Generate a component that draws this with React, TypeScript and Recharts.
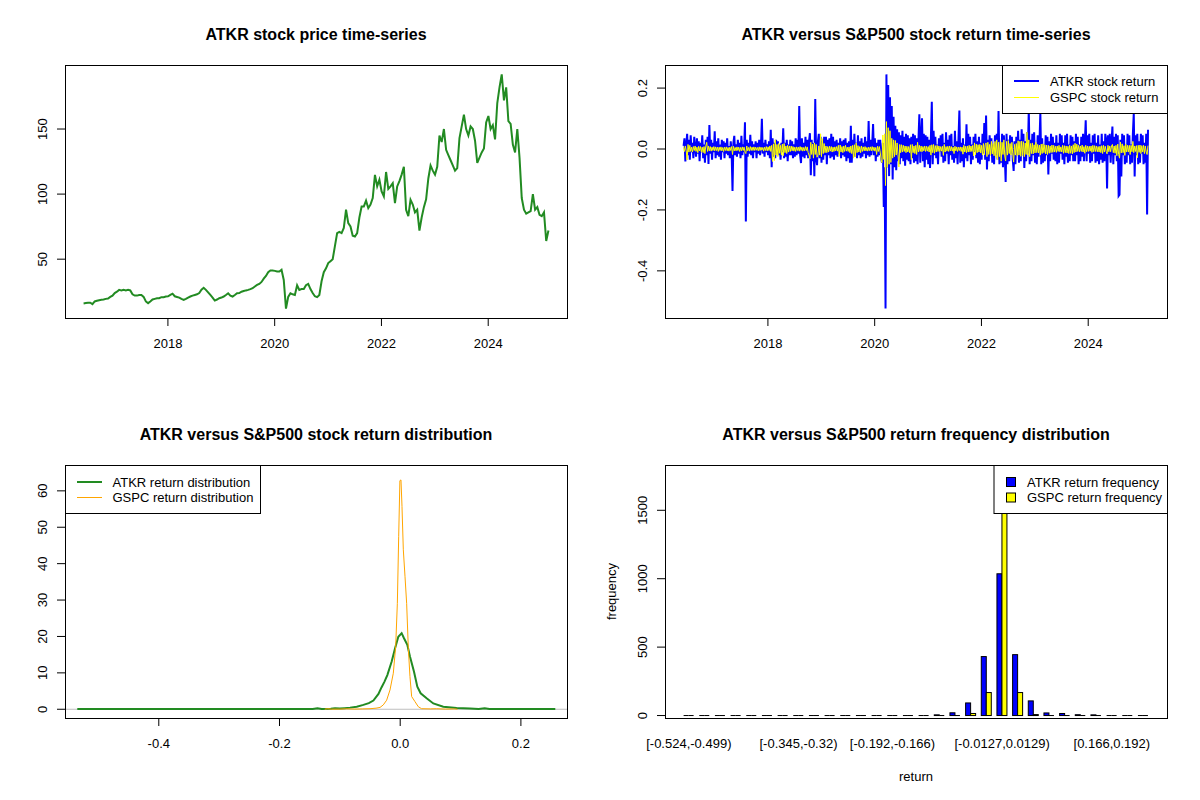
import React from "react";
import { LineChart, Line, XAxis, YAxis, BarChart, Bar, ReferenceLine } from "recharts";

const FONT = '"Liberation Sans", Arial, Helvetica, sans-serif';

// ---------- Panel 1: ATKR price (half-monthly readings) ----------
const PRICE_START = 2016.42;
const PRICE_STEP = 1 / 24;
const atkrPrice = [
  16, 16.3, 16.5, 16.6, 15.5, 17.5, 18, 18.5, 18.8, 19,
  19.5, 19.8, 21, 22, 24, 25, 26.4, 26, 26.4, 26,
  26.4, 26, 23, 22, 22, 22.5, 22.5, 21, 17.5, 16.2,
  17.5, 19, 19.5, 20, 20, 20.8, 20.8, 21.3, 21.5, 22.5,
  23.5, 21.5, 21, 20.5, 19.5, 18.7, 19.5, 20.5, 21.3, 22,
  22.5, 23, 24, 26.5, 28, 26.4, 24.5, 22.5, 20.5, 18.2,
  19, 20, 20.5, 21.3, 22.5, 23.8, 22, 21.3, 22.5, 23.8,
  24, 25, 25.5, 26, 26.4, 27, 27.7, 29, 30.2, 31,
  32.5, 35, 37.1, 40, 41.3, 41.3, 41, 40.5, 40.5, 41.8,
  34, 12, 21, 23.8, 23, 22.5, 30, 26.4, 27, 27,
  30, 31, 27, 24, 21.5, 20.8, 22.5, 33, 40, 43,
  47, 48.5, 50, 60, 70, 71, 70, 74, 88, 77.7,
  75.1, 68, 67.4, 70, 82, 90.5, 90.5, 95, 89.2, 92,
  97, 114.8, 105.9, 111, 102, 98.2, 117, 104, 106, 108.4,
  93, 105.9, 110, 115, 121, 88, 83, 95.6, 92, 86,
  88, 72, 82, 90, 96, 112, 122, 118, 115, 121,
  145, 140, 150, 134, 130, 126, 122, 118, 120, 143,
  152, 161, 150, 145, 152, 150, 141, 124, 128, 132,
  135, 155, 160, 150, 153, 142, 170, 182, 192, 172,
  182, 156, 154, 138, 132, 150, 128, 97, 88, 85,
  86, 87, 100, 88, 90, 84, 83, 86, 64, 72,
];

// ---------- Panel 2: returns (readings every ~1/60 year) ----------
const RET_START = 2016.42;
const RET_STEP = 1 / 60;
const atkrReturn = [
  0.01, 0.035, -0.041, 0.012, 0.05, -0.02, 0.03, -0.035, 0.045, -0.01, 0.02, -0.03, 0.04, 0.005, -0.025, 0.035, -0.015, 0.025, -0.04, 0.02,
  -0.01, 0.045, -0.03, 0.015, -0.045, 0.03, -0.02, 0.04, -0.049, 0.079, -0.015, 0.03, -0.035, 0.02, -0.01, 0.058, -0.03, 0.025, -0.02, 0.035,
  -0.025, 0.015, -0.035, 0.03, -0.01, 0.025, -0.03, 0.02, -0.015, 0.035, -0.02, 0.01, -0.03, 0.025, -0.01, -0.138, 0.02, 0.043, -0.02, 0.015,
  -0.025, 0.03, -0.015, 0.02, -0.03, 0.043, -0.02, 0.015, -0.01, 0.088, -0.238, 0.03, -0.025, 0.02, -0.015, 0.047, -0.02, 0.025, -0.03, 0.015,
  -0.01, 0.025, -0.03, 0.02, -0.015, 0.03, -0.02, 0.01, 0.099, -0.015, 0.02, -0.025, 0.03, -0.01, 0.015, -0.02, 0.025, -0.03, 0.063, -0.06,
  0.035, -0.025, 0.02, -0.03, 0.03, -0.015, 0.025, -0.02, 0.015, -0.035, 0.02, -0.01, 0.068, -0.03, 0.02, -0.025, 0.03, -0.04, 0.015, -0.02,
  0.03, -0.02, 0.025, -0.03, 0.015, -0.025, 0.035, -0.02, 0.03, -0.015, 0.141, -0.02, -0.046, 0.035, -0.025, 0.02, -0.03, 0.04, -0.02, 0.03,
  -0.03, 0.025, 0.052, -0.086, 0.03, -0.04, 0.02, -0.089, 0.164, -0.03, -0.053, 0.025, 0.05, -0.03, 0.04, -0.045, 0.025, -0.035, 0.04, -0.02,
  0.04, -0.05, 0.03, -0.02, 0.035, -0.03, 0.05, -0.025, 0.04, -0.035, 0.025, -0.02, 0.03, -0.025, 0.02, -0.015, 0.035, -0.03, 0.025, -0.02,
  0.03, -0.025, 0.035, -0.04, 0.02, -0.03, 0.025, -0.045, 0.076, -0.045, 0.03, -0.02, 0.05, -0.025, 0.02, -0.03, 0.045, -0.02, 0.025, -0.03,
  0.035, -0.025, 0.02, -0.015, 0.04, -0.03, 0.025, -0.02, 0.092, -0.025, 0.03, -0.02, 0.015, 0.082, -0.02, 0.035, -0.04, 0.02, -0.025, 0.03,
  -0.02, 0.03, -0.03, -0.045, 0.02, -0.19, -0.06, -0.524, 0.245, -0.06, 0.21, -0.089, 0.17, -0.05, 0.141, -0.1, 0.106, -0.06, 0.076, -0.07,
  0.065, -0.04, 0.055, -0.05, 0.045, -0.03, 0.06, -0.04, 0.04, -0.055, 0.05, -0.035, 0.045, -0.04, 0.035, -0.05, 0.04, -0.03, 0.05, -0.045,
  0.045, -0.04, 0.035, -0.05, 0.03, 0.114, -0.045, 0.04, 0.101, -0.04, 0.05, -0.06, 0.045, -0.035, 0.04, -0.05, 0.03, -0.062, 0.04, 0.155,
  -0.05, 0.06, -0.02, 0.04, -0.03, 0.015, -0.05, 0.035, -0.01, 0.045, -0.025, 0.05, -0.045, 0.02, -0.04, 0.055, -0.015, 0.03, -0.05, 0.045,
  -0.02, 0.05, -0.035, 0.01, -0.045, 0.06, -0.03, 0.025, -0.05, 0.035, 0.126, -0.045, 0.02, -0.04, 0.035, -0.06, 0.015, -0.03, 0.081, -0.04,
  0.05, -0.02, 0.04, -0.05, 0.015, -0.035, 0.04, -0.01, 0.05, -0.03, 0.025, -0.045, 0.04, -0.05, 0.02, -0.035, 0.05, -0.015, 0.085, -0.035,
  0.11, -0.067, 0.03, -0.04, 0.045, -0.02, 0.035, -0.045, 0.015, -0.05, 0.045, -0.02, 0.05, -0.035, 0.125, -0.05, 0.02, -0.045, 0.05, -0.06,
  0.045, -0.02, -0.108, 0.05, -0.05, 0.03, -0.04, 0.045, -0.015, 0.04, -0.035, -0.072, 0.025, -0.05, 0.04, -0.02, 0.06, -0.045, 0.03, -0.04,
  0.065, -0.02, 0.05, -0.062, 0.025, -0.04, 0.055, -0.015, 0.13, -0.05, 0.03, -0.04, 0.05, -0.02, 0.055, -0.045, 0.015, -0.05, 0.045, -0.025,
  0.02, 0.12, -0.05, 0.035, -0.045, 0.015, -0.04, 0.045, -0.02, 0.04, -0.084, 0.025, -0.04, 0.05, -0.015, 0.04, -0.035, 0.02, -0.04, 0.045,
  -0.05, 0.02, -0.045, 0.05, -0.015, 0.045, -0.035, 0.02, -0.05, 0.045, -0.025, 0.05, -0.045, 0.015, -0.04, 0.045, -0.02, 0.04, -0.04, 0.025,
  -0.04, 0.05, -0.02, 0.04, -0.05, 0.015, -0.04, 0.04, -0.025, 0.05, -0.04, 0.02, 0.094, -0.04, 0.045, -0.015, 0.05, -0.045, 0.02, -0.04,
  0.045, -0.015, 0.05, -0.045, 0.02, -0.04, 0.045, -0.05, 0.015, -0.035, 0.05, -0.045, 0.025, -0.04, 0.05, 0.03, -0.13, 0.045, -0.02, 0.05,
  -0.045, 0.02, 0.074, -0.05, 0.04, -0.02, 0.05, -0.04, 0.045, -0.154, -0.15, 0.03, -0.09, 0.05, -0.02, 0.045, -0.05, 0.015, -0.045, 0.05,
  -0.02, 0.045, -0.05, 0.015, -0.045, 0.05, 0.117, -0.09, 0.045, -0.02, 0.05, -0.05, 0.025, -0.045, 0.05, -0.015, 0.045, -0.05, 0.02, -0.045,
  0.05, -0.215, 0.063,
];
const gspcReturn = [
  0.005, -0.008, 0.01, -0.006, -0.036, 0.015, -0.01, 0.012, -0.008, 0.006, -0.01, 0.008, -0.005, 0.01, -0.008, 0.006, -0.012, 0.009, -0.006, 0.008,
  -0.01, 0.006, -0.012, 0.008, -0.015, 0.01, 0.022, -0.008, 0.01, -0.006, 0.008, -0.007, 0.006, -0.005, 0.008, -0.006, 0.007, -0.005, 0.006, -0.008,
  0.006, -0.005, 0.007, -0.006, 0.005, -0.008, 0.006, -0.005, 0.007, -0.006, 0.005, -0.007, 0.006, -0.005, 0.008, -0.018, 0.009, -0.006, 0.005, -0.006,
  0.007, -0.005, 0.006, -0.008, 0.005, -0.006, 0.007, -0.005, 0.006, -0.01, -0.015, 0.01, -0.006, 0.005, -0.007, 0.008, -0.005, 0.006, -0.005, 0.007,
  -0.005, 0.006, -0.004, 0.005, -0.006, 0.007, -0.005, 0.006, -0.004, 0.005, -0.007, 0.006, -0.005, 0.008, -0.006, 0.007, -0.005, 0.01, -0.008, 0.012,
  -0.041, 0.017, -0.038, 0.03, -0.02, 0.015, -0.025, 0.018, -0.014, 0.012, -0.02, 0.016, -0.022, 0.018, -0.012, 0.01, -0.015, 0.012, -0.01, 0.01,
  -0.008, 0.01, -0.006, 0.008, -0.007, 0.006, -0.008, 0.007, -0.005, 0.006, -0.007, 0.008, -0.005, 0.006, -0.007, 0.005, -0.006, 0.008, -0.005, 0.007,
  -0.012, -0.02, -0.032, 0.022, -0.018, 0.016, -0.03, 0.02, -0.018, 0.015, -0.027, -0.02, 0.01, -0.02, 0.05, -0.025, 0.034, -0.015, 0.018, -0.012,
  0.01, -0.012, 0.008, -0.01, 0.009, -0.007, 0.008, -0.01, 0.006, -0.008, 0.007, -0.006, 0.008, -0.007, 0.012, -0.024, 0.013, -0.01, 0.008, -0.012,
  0.01, -0.008, 0.012, -0.007, 0.006, -0.008, 0.007, -0.012, 0.01, -0.015, 0.012, -0.03, 0.014, -0.026, 0.02, -0.012, 0.011, -0.01, 0.008, -0.012,
  0.01, -0.008, 0.007, -0.006, 0.008, -0.006, 0.005, -0.007, 0.006, -0.005, 0.007, -0.006, 0.008, -0.005, 0.006, -0.007, 0.005, -0.018, 0.009, -0.008,
  0.008, -0.01, -0.035, -0.045, 0.046, -0.034, 0.05, -0.12, 0.09, -0.06, 0.07, -0.05, 0.06, -0.044, 0.035, -0.03, 0.03, -0.025, 0.028, -0.02,
  0.02, -0.018, -0.059, 0.015, -0.012, 0.014, -0.01, 0.012, -0.008, 0.01, -0.012, 0.009, -0.01, 0.008, -0.012, 0.014, -0.035, 0.015, -0.012, 0.01,
  -0.015, 0.012, -0.018, 0.022, -0.01, 0.012, -0.008, 0.01, -0.009, 0.008, -0.006, 0.01, -0.008, 0.009, -0.007, 0.008, -0.01, 0.012, -0.02, 0.014,
  -0.012, 0.015, -0.014, 0.011, -0.01, 0.012, -0.008, 0.01, -0.009, 0.008, -0.007, 0.009, -0.021, 0.015, -0.01, 0.008, -0.007, 0.009, -0.008, 0.01,
  -0.006, 0.008, -0.007, 0.006, -0.015, 0.009, -0.006, 0.007, -0.008, 0.006, -0.005, 0.007, -0.008, 0.006, -0.017, 0.012, -0.01, 0.009, -0.012, 0.01,
  -0.01, 0.012, -0.009, 0.01, -0.008, 0.012, -0.023, 0.02, -0.019, 0.016, -0.012, 0.014, -0.01, 0.015, -0.013, 0.012, -0.02, 0.018, -0.019, 0.014,
  0.02, -0.025, 0.022, -0.018, 0.015, -0.02, 0.025, -0.016, 0.018, -0.022, 0.025, -0.028, 0.03, -0.036, 0.022, -0.025, 0.024, -0.04, 0.022, -0.018,
  0.03, -0.023, -0.039, 0.025, -0.02, 0.028, -0.015, 0.018, -0.02, 0.022, -0.016, -0.043, 0.015, -0.02, 0.018, -0.022, 0.027, -0.02, 0.025, -0.024,
  0.026, -0.021, 0.024, -0.025, 0.02, -0.018, 0.055, -0.02, 0.03, -0.025, 0.018, -0.015, 0.02, -0.016, 0.014, -0.013, 0.022, -0.012, 0.015, -0.013,
  0.013, -0.02, 0.016, -0.015, 0.017, -0.012, 0.014, -0.016, 0.013, -0.018, 0.012, -0.014, 0.01, -0.012, 0.013, -0.011, 0.012, -0.01, 0.009, -0.011,
  0.01, -0.008, 0.012, -0.009, 0.007, -0.01, 0.012, -0.014, 0.011, -0.012, 0.01, -0.013, 0.009, -0.015, 0.012, -0.014, 0.01, -0.016, 0.014, -0.012,
  0.019, -0.01, 0.016, -0.008, 0.012, -0.009, 0.01, -0.008, 0.013, -0.01, 0.008, -0.014, 0.012, -0.009, 0.01, -0.008, 0.009, -0.007, 0.01, -0.011,
  0.012, -0.009, 0.011, -0.008, 0.01, -0.009, 0.008, -0.01, 0.009, -0.012, 0.011, -0.015, 0.012, -0.01, 0.009, -0.008, -0.016, 0.012, -0.009, 0.01,
  -0.009, 0.01, 0.015, -0.012, 0.01, -0.014, 0.012, -0.022, 0.016, -0.018, -0.03, 0.023, -0.013, 0.017, -0.012, 0.011, -0.021, 0.016, -0.01, 0.012,
  -0.01, 0.012, -0.018, 0.012, -0.009, 0.025, -0.012, 0.01, -0.008, 0.011, -0.029, 0.012, -0.011, 0.013, -0.015, 0.011, -0.01, 0.012, -0.015, 0.01,
  -0.01, -0.018, 0.011,
];

// ---------- Panel 3: densities [x, density] ----------
const atkrDensity = [
  [-0.535, 0.05], [-0.45, 0.05], [-0.35, 0.05], [-0.25, 0.05], [-0.2, 0.06],
  [-0.145, 0.06], [-0.137, 0.25], [-0.13, 0.06], [-0.115, 0.12], [-0.108, 0.25],
  [-0.1, 0.18], [-0.092, 0.3], [-0.083, 0.45], [-0.072, 0.7], [-0.061, 1.2],
  [-0.052, 1.7], [-0.0444, 2.4], [-0.036, 4.2], [-0.031, 6.0], [-0.026, 7.6],
  [-0.0213, 9.4], [-0.0141, 13.1], [-0.0086, 16.7], [-0.0031, 19.9], [0.0024, 20.9],
  [0.0063, 19.5], [0.0118, 17.7], [0.0162, 14.5], [0.0229, 10.3], [0.0284, 6.2],
  [0.0339, 4.4], [0.0438, 3.0], [0.0549, 1.6], [0.0714, 0.7], [0.0935, 0.35],
  [0.1156, 0.2], [0.13, 0.1], [0.14, 0.3], [0.148, 0.1], [0.2, 0.05], [0.257, 0.05],
];
const gspcDensity = [
  [-0.125, 0.02], [-0.12, 0.15], [-0.114, 0.03], [-0.1, 0.05], [-0.09, 0.12],
  [-0.075, 0.05], [-0.062, 0.1], [-0.05, 0.15], [-0.04, 0.3], [-0.0334, 0.5],
  [-0.028, 1.2], [-0.0224, 2.5], [-0.0169, 5.3], [-0.0114, 9.9], [-0.0075, 17.2],
  [-0.0047, 29.1], [-0.0025, 47.4], [-0.0005, 62.8], [0.0013, 63.0], [0.003, 55.7],
  [0.0052, 43.8], [0.008, 36.4], [0.0107, 29.1], [0.0135, 16.7], [0.0162, 9.0],
  [0.019, 3.5], [0.0245, 2.1], [0.03, 0.7], [0.0355, 0.15], [0.05, 0.1],
  [0.06, 0.15], [0.075, 0.05], [0.09, 0.1], [0.095, 0.02],
];

// ---------- Panel 4: histogram ----------
const histBinLabels = [
  "[-0.524,-0.499)", "[-0.499,-0.473)", "[-0.473,-0.448)", "[-0.448,-0.422)", "[-0.422,-0.396)",
  "[-0.396,-0.371)", "[-0.371,-0.345)", "[-0.345,-0.32)", "[-0.32,-0.294)", "[-0.294,-0.268)",
  "[-0.268,-0.243)", "[-0.243,-0.217)", "[-0.217,-0.192)", "[-0.192,-0.166)", "[-0.166,-0.141)",
  "[-0.141,-0.115)", "[-0.115,-0.0894)", "[-0.0894,-0.0639)", "[-0.0639,-0.0383)", "[-0.0383,-0.0127)",
  "[-0.0127,0.0129)", "[0.0129,0.0385)", "[0.0385,0.064)", "[0.064,0.0896)", "[0.0896,0.115)",
  "[0.115,0.141)", "[0.141,0.166)", "[0.166,0.192)", "[0.192,0.218)", "[0.218,0.243]",
];
const atkrFreq = [1, 0, 0, 0, 0, 0, 0, 0, 0, 0, 0, 2, 1, 0, 2, 4, 5, 20, 92, 431, 1036, 445, 107, 19, 15, 6, 5, 2, 1, 1];
const gspcFreq = [0, 0, 0, 0, 0, 0, 0, 0, 0, 0, 0, 0, 0, 0, 0, 0, 0, 1, 15, 168, 1825, 168, 7, 3, 1, 0, 0, 0, 0, 0];
const histShownLabels = ["[-0.524,-0.499)", "[-0.345,-0.32)", "[-0.192,-0.166)", "[-0.0127,0.0129)", "[0.166,0.192)"];

// ---------- ticks ----------
const timeTicks = [2018, 2020, 2022, 2024];
const priceTicks = [50, 100, 150];
const returnTicks = [-0.4, -0.2, 0, 0.2];
const densityXTicks = [-0.4, -0.2, 0, 0.2];
const densityYTicks = [0, 10, 20, 30, 40, 50, 60];
const freqTicks = [0, 500, 1000, 1500];

// ---------- built tables ----------
const priceData = atkrPrice.map((p, i) => ({ t: PRICE_START + i * PRICE_STEP, price: p }));
const returnData = atkrReturn.map((a, i) => ({ t: RET_START + i * RET_STEP, a, g: gspcReturn[i] }));
const atkrDensData = atkrDensity.map(([x, y]) => ({ x, y }));
const gspcDensData = gspcDensity.map(([x, y]) => ({ x, y }));
const histData = histBinLabels.map((label, i) => ({ label, atkr: atkrFreq[i], gspc: gspcFreq[i] }));

const TIME_DOMAIN: [number, number] = [2016.072, 2025.476];

const W = 600;
const H = 400;
const MARGIN = { top: 65, right: 33, bottom: 0, left: 0 };

const XTick = (props: any) => {
  const { x, y, payload, fmt, shown } = props;
  const v = payload.value;
  if (shown && !shown.includes(v)) return null;
  return (
    <text x={x} y={y + 17} textAnchor="middle" dominantBaseline="central" fontSize={13} fontFamily={FONT} fill="#000">
      {fmt ? fmt(v) : String(v)}
    </text>
  );
};

const YTick = (props: any) => {
  const { x, y, payload, fmt } = props;
  const cx = x - 14.5;
  return (
    <text x={cx} y={y} transform={`rotate(-90, ${cx}, ${y})`} textAnchor="middle" dominantBaseline="central" fontSize={13} fontFamily={FONT} fill="#000">
      {fmt ? fmt(payload.value) : String(payload.value)}
    </text>
  );
};

const fmt1 = (v: number) => v.toFixed(1);

const HistShape = (props: any) => {
  const { x, y, width, height, fill } = props;
  if (!(height > 0.6)) {
    const base = y + (height || 0);
    return <line x1={x} x2={x + width} y1={base} y2={base} stroke="#000" strokeWidth={1} />;
  }
  return <rect x={x} y={y} width={width} height={height} fill={fill} stroke="#000" strokeWidth={1} />;
};

const axisCommon = {
  tickSize: 8,
  tickMargin: 0,
  axisLine: false,
  stroke: "#000",
  interval: 0 as const,
  allowDataOverflow: true,
};

function PriceChart() {
  return (
    <LineChart width={W} height={H} margin={MARGIN} data={priceData}>
      <XAxis {...axisCommon} type="number" dataKey="t" domain={TIME_DOMAIN} ticks={timeTicks} height={82} tick={<XTick />} />
      <YAxis {...axisCommon} type="number" domain={[4.8, 199.2]} ticks={priceTicks} width={65} tick={<YTick />} />
      <Line type="linear" dataKey="price" stroke="#228B22" strokeWidth={2} dot={false} isAnimationActive={false} />
    </LineChart>
  );
}

function ReturnChart() {
  return (
    <LineChart width={W} height={H} margin={MARGIN} data={returnData}>
      <XAxis {...axisCommon} type="number" dataKey="t" domain={TIME_DOMAIN} ticks={timeTicks} height={82} tick={<XTick />} />
      <YAxis {...axisCommon} type="number" domain={[-0.5548, 0.2758]} ticks={returnTicks} width={65} tick={<YTick fmt={fmt1} />} />
      <Line type="linear" dataKey="a" stroke="#0000FF" strokeWidth={2} dot={false} isAnimationActive={false} />
      <Line type="linear" dataKey="g" stroke="#FFFF00" strokeWidth={1} dot={false} isAnimationActive={false} />
    </LineChart>
  );
}

function DensityChart() {
  return (
    <LineChart width={W} height={H} margin={MARGIN}>
      <XAxis {...axisCommon} type="number" dataKey="x" domain={[-0.5554, 0.2764]} ticks={densityXTicks} height={82} tick={<XTick fmt={fmt1} />} />
      <YAxis {...axisCommon} type="number" domain={[-2.4, 67.1]} ticks={densityYTicks} width={65} tick={<YTick />} />
      <ReferenceLine y={0} stroke="#BEBEBE" strokeWidth={1} />
      <Line data={atkrDensData} type="linear" dataKey="y" stroke="#228B22" strokeWidth={2} dot={false} isAnimationActive={false} />
      <Line data={gspcDensData} type="linear" dataKey="y" stroke="#FFA500" strokeWidth={1} dot={false} isAnimationActive={false} />
    </LineChart>
  );
}

function FreqChart() {
  return (
    <BarChart width={W} height={H} margin={MARGIN} data={histData} barCategoryGap="16.667%" barGap={0}>
      <XAxis
        dataKey="label"
        type="category"
        tickSize={8}
        tickMargin={0}
        tickLine={false}
        axisLine={false}
        interval={0}
        padding={{ left: 16, right: 16 }}
        height={82}
        tick={<XTick shown={histShownLabels} />}
      />
      <YAxis {...axisCommon} type="number" domain={[-18, 1831]} ticks={freqTicks} width={65} tick={<YTick />} />
      <Bar dataKey="atkr" fill="#0000FF" shape={HistShape} isAnimationActive={false} />
      <Bar dataKey="gspc" fill="#FFFF00" shape={HistShape} isAnimationActive={false} />
    </BarChart>
  );
}

const panelOrigins = [
  [0, 0],
  [600, 0],
  [0, 400],
  [600, 400],
];
const titles = [
  "ATKR stock price time-series",
  "ATKR versus S&P500 stock return time-series",
  "ATKR versus S&P500 stock return distribution",
  "ATKR versus S&P500 return frequency distribution",
];

export default function App() {
  const txt = { fontFamily: FONT, fontSize: 13, fill: "#000" };
  return (
    <div style={{ position: "absolute", left: 0, top: 0, width: 1200, height: 800, background: "#fff", overflow: "hidden" }}>
      <div style={{ position: "absolute", left: 0, top: 0 }}><PriceChart /></div>
      <div style={{ position: "absolute", left: 600, top: 0 }}><ReturnChart /></div>
      <div style={{ position: "absolute", left: 0, top: 400 }}><DensityChart /></div>
      <div style={{ position: "absolute", left: 600, top: 400 }}><FreqChart /></div>
      <svg width={1200} height={800} style={{ position: "absolute", left: 0, top: 0, pointerEvents: "none" }}>
        {panelOrigins.map(([ox, oy], i) => (
          <g key={i}>
            <rect x={ox + 65.5} y={oy + 65.5} width={502} height={253} fill="none" stroke="#000" strokeWidth={1} />
            <text x={ox + 316} y={oy + 34.5} textAnchor="middle" dominantBaseline="central" fontFamily={FONT} fontSize={16} fontWeight="bold" fill="#000">
              {titles[i]}
            </text>
          </g>
        ))}

        {/* Panel 2 legend */}
        <rect x={1002.5} y={65.5} width={165} height={48} fill="#fff" stroke="#000" strokeWidth={1} />
        <line x1={1014} x2={1039} y1={81} y2={81} stroke="#0000FF" strokeWidth={2} />
        <line x1={1014} x2={1039} y1={97.5} y2={97.5} stroke="#FFFF00" strokeWidth={1} />
        <text x={1050} y={81} dominantBaseline="central" {...txt}>ATKR stock return</text>
        <text x={1050} y={97.5} dominantBaseline="central" {...txt}>GSPC stock return</text>

        {/* Panel 3 legend */}
        <rect x={65.5} y={465.5} width={195} height={48} fill="#fff" stroke="#000" strokeWidth={1} />
        <line x1={77} x2={102} y1={482} y2={482} stroke="#228B22" strokeWidth={2} />
        <line x1={77} x2={102} y1={497.5} y2={497.5} stroke="#FFA500" strokeWidth={1} />
        <text x={112.5} y={482} dominantBaseline="central" {...txt}>ATKR return distribution</text>
        <text x={112.5} y={497.5} dominantBaseline="central" {...txt}>GSPC return distribution</text>

        {/* Panel 4 legend */}
        <rect x={994} y={465.5} width={173.5} height={48} fill="#fff" stroke="#000" strokeWidth={1} />
        <rect x={1006.5} y={477.5} width={9} height={9} fill="#0000FF" stroke="#000" strokeWidth={1} />
        <rect x={1006.5} y={493} width={9} height={9} fill="#FFFF00" stroke="#000" strokeWidth={1} />
        <text x={1027} y={482} dominantBaseline="central" {...txt}>ATKR return frequency</text>
        <text x={1027} y={497.5} dominantBaseline="central" {...txt}>GSPC return frequency</text>

        {/* Panel 4 axis titles */}
        <text x={611} y={591.5} transform="rotate(-90, 611, 591.5)" textAnchor="middle" dominantBaseline="central" {...txt}>frequency</text>
        <text x={916} y={776} textAnchor="middle" dominantBaseline="central" {...txt}>return</text>
      </svg>
    </div>
  );
}
